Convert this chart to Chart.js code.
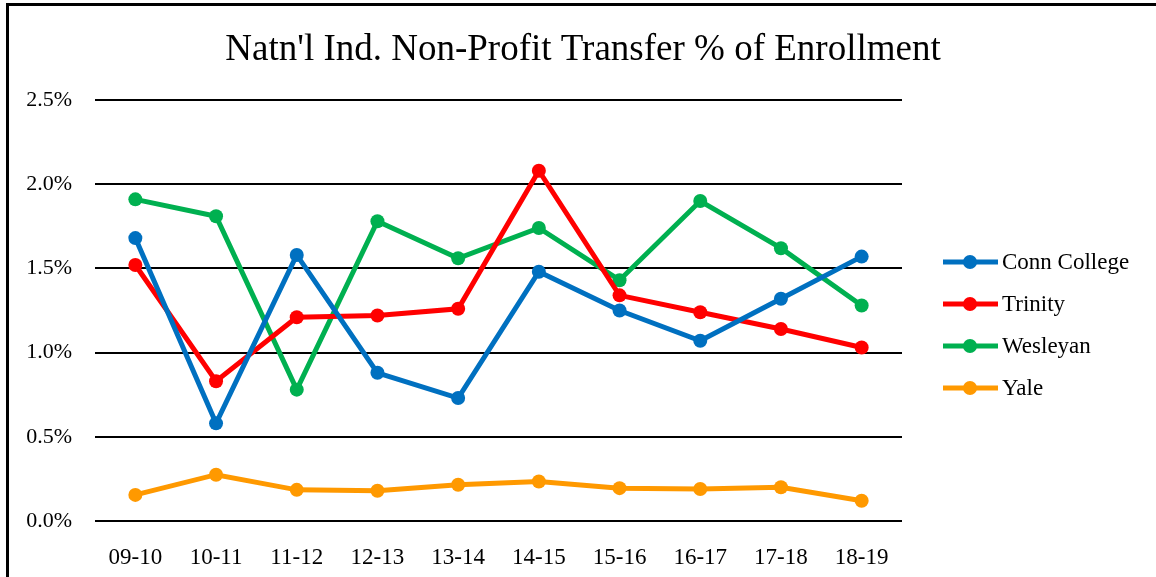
<!DOCTYPE html>
<html>
<head>
<meta charset="utf-8">
<script src="https://cdn.jsdelivr.net/npm/chart.js@4/dist/chart.umd.min.js"></script>
<style>
  body { margin: 0; background: #fff; }
  #frame { position: absolute; left: 6px; top: 3px; width: 1150px; height: 574px;
           border-left: 3px solid #000; border-top: 3px solid #000; pointer-events: none; }
  canvas { position: absolute; left: 0; top: 0; }
</style>
</head>
<body>
<canvas id="transferChart" width="1156" height="577"></canvas>
<div id="frame"></div>
<script>
// Anos letivos (eixo X)
const years = ['09-10', '10-11', '11-12', '12-13', '13-14', '14-15', '15-16', '16-17', '17-18', '18-19'];

// Percentual de transferências por escola
const connCollege = [1.68, 0.58, 1.58, 0.88, 0.73, 1.48, 1.25, 1.07, 1.32, 1.57];
const trinity = [1.52, 0.83, 1.21, 1.22, 1.26, 2.08, 1.34, 1.24, 1.14, 1.03];
const wesleyan = [1.91, 1.81, 0.78, 1.78, 1.56, 1.74, 1.43, 1.90, 1.62, 1.28];
const yale = [0.155, 0.275, 0.185, 0.18, 0.215, 0.235, 0.195, 0.19, 0.20, 0.12];

const seriesNames = ['Conn College', 'Trinity', 'Wesleyan', 'Yale'];
const seriesColors = ['#0070C0', '#FF0000', '#00B050', '#FF9900'];

const serif = "'Liberation Serif', 'Times New Roman', serif";

function makeDataset(i, values) {
  return {
    label: seriesNames[i],
    data: values,
    borderColor: seriesColors[i],
    backgroundColor: seriesColors[i],
    borderWidth: 5,
    pointRadius: 7,
    pointBorderWidth: 0,
    tension: 0
  };
}

// Legenda desenhada à mão (linha + bolinha, estilo Excel)
const sideLegend = {
  id: 'sideLegend',
  afterDraw(chart) {
    const c = chart.ctx;
    c.save();
    chart.data.datasets.forEach((ds, i) => {
      const y = 262 + i * 42;
      c.strokeStyle = ds.borderColor;
      c.lineWidth = 5;
      c.beginPath();
      c.moveTo(943, y);
      c.lineTo(998, y);
      c.stroke();
      c.fillStyle = ds.borderColor;
      c.beginPath();
      c.arc(970, y, 7, 0, Math.PI * 2);
      c.fill();
      c.fillStyle = '#000';
      c.font = '23px ' + serif;
      c.textBaseline = 'middle';
      c.fillText(ds.label, 1002, y + 1);
    });
    c.restore();
  }
};

const ctx = document.getElementById('transferChart').getContext('2d');
new Chart(ctx, {
  type: 'line',
  data: {
    labels: years,
    datasets: [
      makeDataset(0, connCollege),
      makeDataset(1, trinity),
      makeDataset(2, wesleyan),
      makeDataset(3, yale)
    ]
  },
  options: {
    responsive: false,
    animation: false,
    layout: { padding: { left: 10, right: 0, top: 0, bottom: 0 } },
    plugins: {
      legend: { display: false },
      tooltip: { enabled: false },
      title: {
        display: true,
        text: "Natn'l Ind. Non-Profit Transfer % of Enrollment",
        color: '#000',
        font: { family: serif, size: 37, weight: 'normal', lineHeight: 1.2 },
        padding: { top: 27.8, bottom: 27.8 }
      }
    },
    scales: {
      x: {
        offset: true,
        grid: { display: false },
        border: { display: false },
        ticks: { color: '#000', font: { family: serif, size: 23 }, padding: 15 },
        afterFit: s => { s.height = 56; }
      },
      y: {
        min: 0,
        max: 2.5,
        ticks: {
          stepSize: 0.5,
          color: '#000',
          padding: 23,
          font: { family: serif, size: 22 },
          callback: v => v.toFixed(1) + '%'
        },
        grid: { color: '#000', lineWidth: 2, drawTicks: false },
        border: { display: false },
        afterFit: s => { s.width = 85; }
      },
      // eixo vazio só para reservar espaço da legenda à direita
      spacer: {
        position: 'right',
        grid: { display: false },
        border: { display: false },
        ticks: { display: false },
        afterFit: s => { s.width = 254; }
      }
    }
  },
  plugins: [sideLegend]
});
</script>
</body>
</html>
